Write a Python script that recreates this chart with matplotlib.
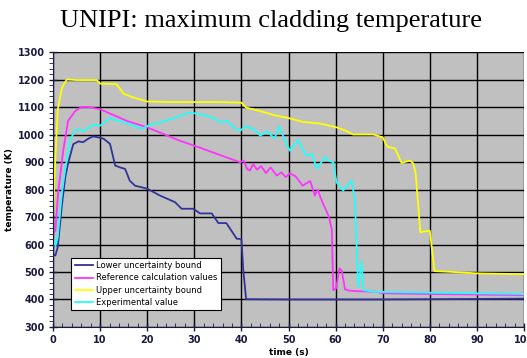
import numpy as np
import matplotlib.pyplot as plt
from matplotlib.ticker import MultipleLocator

# ---- data (time s, temperature K) ----
lower_t = [0, 0.5, 1, 1.9, 2.6, 3.2, 4.3, 5.4, 6.4, 7.5, 8.5, 9.5, 10.7, 12.1, 13.2, 14.3,
           15.3, 16.3, 17.4, 20, 22.7, 25.9, 27.3, 29.8, 31.2, 33.7, 35.1, 36.8, 39, 40,
           40.4, 41, 50, 60, 70, 80, 90, 100]
lower_T = [565, 560, 590, 745, 845, 895, 965, 975, 972, 985, 993, 990, 985, 966, 887, 880,
           875, 832, 814, 803, 778, 754, 730, 730, 713, 713, 678, 678, 621, 620,
           506, 401, 400, 400, 400, 401, 402, 403]

ref_t = [0, 0.5, 1.1, 2.2, 3.2, 4.7, 6, 7.5, 10, 15.6, 20, 27, 31.2, 39.7, 40.5, 41.2, 41.8,
         42.5, 43.3, 44.2, 45.2, 46.2, 47.5, 48.5, 49.4, 50.3, 51.5, 53, 54.6, 55.6, 56.2,
         56.8, 57.8, 58.6, 59.2, 59.5, 60.1, 60.8, 61.3, 62, 63, 65, 68.7, 70, 80, 90, 100]
ref_T = [640, 650, 790, 945, 1050, 1085, 1100, 1100, 1092, 1050, 1026, 977, 952, 899, 905, 875, 869,
         893, 872, 885, 860, 880, 851, 862, 845, 859, 848, 814, 831, 778, 800,
         770, 731, 700, 654, 434, 440, 513, 505, 437, 432, 430, 428, 423, 420, 418, 416]

upper_t = [0, 0.45, 1, 1.9, 2.9, 5, 9.3, 10, 13.5, 15, 17, 20, 25, 30, 35, 40, 41, 44, 47.5,
           50, 53, 56.7, 60.2, 62, 63.7, 66, 68, 70, 71, 72.6, 74, 75.8, 76.5, 77, 78,
           79, 80, 81, 85, 90, 100]
upper_T = [690, 900, 1090, 1170, 1200, 1198, 1198, 1185, 1183, 1148, 1135, 1120, 1118, 1118, 1118, 1116, 1098, 1085, 1068,
           1060, 1046, 1040, 1026, 1015, 1000, 1000, 1000, 990, 955, 950, 897, 905, 895, 858, 644,
           648, 650, 503, 500, 495, 492]

exp_t = [0, 0.5, 1, 1.9, 2.6, 3.6, 4.7, 5.7, 6.5, 7.5, 8.6, 10, 11, 12.1, 13, 14.5, 17, 18.8,
         20.5, 22.7, 25, 27, 29, 31.2, 32.5, 34, 35.5, 37, 38.3, 39.7, 41, 42.5, 44, 45.5,
         47, 48, 49.6, 50.3, 52, 53.8, 55, 56, 57.7, 58.5, 59.5, 60.2, 61.6, 63.4, 64.1, 64.8,
         65.5, 65.9, 68, 80, 100]
exp_T = [625, 595, 625, 790, 875, 980, 1015, 1018, 1012, 1025, 1035, 1032, 1045, 1061, 1052, 1048, 1032, 1021,
         1035, 1044, 1055, 1068, 1080, 1074, 1068, 1060, 1044, 1050, 1026, 1014, 1030, 1020, 996, 1012,
         985, 1030, 965, 941, 980, 923, 930, 875, 918, 905, 899, 826, 796, 833, 760, 446,
         537, 434, 428, 425, 420]

labels = ['Lower uncertainty bound', 'Reference calculation values',
          'Upper uncertainty bound', 'Experimental value']
colors = ['#333399', '#ff33ff', '#ffff00', '#22ffff']

fig = plt.figure(figsize=(5.27, 3.58), dpi=100)
ax = fig.add_axes([0.1006, 0.0866, 0.8937, 0.7681])
ax.set_facecolor('#c0c0c0')

series = [(lower_t, lower_T), (ref_t, ref_T), (upper_t, upper_T), (exp_t, exp_T)]
for (t, T), lab, c in zip(series, labels, colors):
    ax.plot(t, T, color=c, lw=1.3, label=lab)

ax.set_xlim(0, 100)
ax.set_ylim(300, 1300)
ax.xaxis.set_major_locator(MultipleLocator(10))
ax.xaxis.set_minor_locator(MultipleLocator(2))
ax.yaxis.set_major_locator(MultipleLocator(100))
ax.yaxis.set_minor_locator(MultipleLocator(20))
ax.grid(True, which='major', color='black', lw=1.0)
ax.set_axisbelow(True)

for s in ['top', 'right']:
    ax.spines[s].set_visible(False)
for s in ['left', 'bottom']:
    ax.spines[s].set_color('#1a1a40')

ax.tick_params(axis='both', which='major', direction='inout', length=6, width=1,
               colors='#1a1a40', labelsize=7, pad=3)
ax.tick_params(axis='x', which='minor', direction='in', length=3, colors='#1a1a40')
ax.tick_params(axis='y', which='minor', direction='out', length=3, colors='#1a1a40')
for lb in ax.get_xticklabels() + ax.get_yticklabels():
    lb.set_fontweight('bold')

ax.set_xlabel('time (s)', fontsize=6.5, fontweight='bold', labelpad=2)
ax.set_ylabel('temperature (K)', fontsize=6.5, fontweight='bold', labelpad=3)

leg = ax.legend(loc='lower left', bbox_to_anchor=(0.03, 0.045), fontsize=6,
                frameon=True, fancybox=False, framealpha=1, edgecolor='black',
                handlelength=2.2, borderpad=0.4, labelspacing=0.4, handletextpad=0.4)
leg.get_frame().set_linewidth(0.8)

fig.text(0.515, 0.94, 'UNIPI: maximum cladding temperature', ha='center', va='center',
         fontsize=19, family='Liberation Serif')

fig.savefig('out.png', dpi=100)
